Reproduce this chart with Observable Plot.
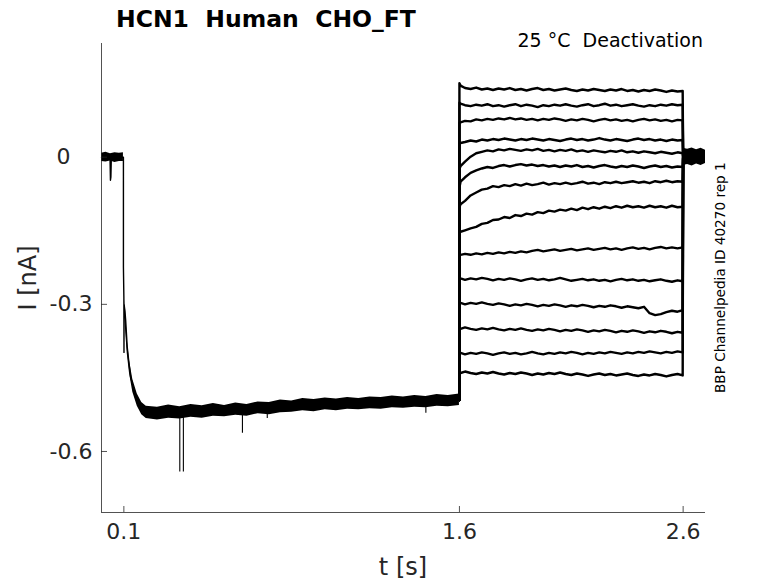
<!DOCTYPE html>
<html><head><meta charset="utf-8">
<script src="https://cdn.jsdelivr.net/npm/d3@7"></script>
<script src="https://cdn.jsdelivr.net/npm/@observablehq/plot@0.6"></script>
<style>html,body{margin:0;padding:0;background:#fff;} svg text{white-space:pre;}</style>
</head><body><div id="chart"></div>
<script>
const title = "HCN1  Human  CHO_FT";
const subtitle = "25 °C  Deactivation";
const credit = "BBP Channelpedia ID 40270 rep 1";
const xLabel = "t [s]";
const yLabel = "I [nA]";
const xTicks = [0.1, 1.6, 2.6];
const yTicks = [0, -0.3, -0.6];
const xDomain = [0, 2.7];
const yDomain = [-0.7244, 0.2318];

// shared prepulse (mean trace)
const preT = [0.000, 0.038, 0.040, 0.042, 0.044, 0.098, 0.098, 0.100, 0.1005, 0.101, 0.105, 0.108, 0.115, 0.123, 0.130, 0.145, 0.160, 0.175, 0.190, 0.205, 0.250, 0.300, 0.400, 0.500, 0.600, 0.700, 0.800, 0.900, 1.000, 1.100, 1.200, 1.300, 1.400, 1.500, 1.600];
const preI = [0.000, 0.000, -0.047, -0.040, 0.000, 0.000, -0.224, -0.285, -0.398, -0.300, -0.315, -0.332, -0.387, -0.421, -0.448, -0.475, -0.495, -0.509, -0.519, -0.526, -0.522, -0.521, -0.519, -0.517, -0.515, -0.512, -0.509, -0.506, -0.505, -0.503, -0.502, -0.500, -0.499, -0.497, -0.495];

// noise envelope of the overlapping prepulse traces
const bandT = [0.105, 0.115, 0.125, 0.140, 0.160, 0.180, 0.200, 0.250, 0.300, 0.350, 0.400, 0.450, 0.500, 0.550, 0.600, 0.650, 0.700, 0.750, 0.800, 0.850, 0.900, 0.950, 1.000, 1.050, 1.100, 1.150, 1.200, 1.250, 1.300, 1.350, 1.400, 1.450, 1.500, 1.550, 1.600];
const bandUp = [-0.290, -0.372, -0.414, -0.453, -0.483, -0.500, -0.508, -0.510, -0.505, -0.509, -0.504, -0.507, -0.502, -0.506, -0.501, -0.504, -0.499, -0.500, -0.495, -0.497, -0.492, -0.494, -0.491, -0.493, -0.490, -0.492, -0.489, -0.490, -0.487, -0.489, -0.486, -0.488, -0.484, -0.486, -0.483];
const bandLo = [-0.335, -0.400, -0.440, -0.479, -0.508, -0.525, -0.533, -0.536, -0.532, -0.534, -0.530, -0.532, -0.528, -0.529, -0.526, -0.528, -0.523, -0.525, -0.521, -0.520, -0.517, -0.519, -0.515, -0.517, -0.514, -0.515, -0.513, -0.514, -0.511, -0.512, -0.510, -0.511, -0.508, -0.509, -0.506];

// holding-level noise before the prepulse and after the tails
const holdT = [0.000, 0.020, 0.040, 0.060, 0.080, 0.098, 2.600, 2.620, 2.640, 2.660, 2.680, 2.700];
const holdUp = [0.008, 0.010, 0.007, 0.009, 0.008, 0.009, 0.018, 0.016, 0.019, 0.015, 0.018, 0.014];
const holdLo = [-0.009, -0.010, -0.008, -0.011, -0.009, -0.009, -0.017, -0.015, -0.018, -0.014, -0.017, -0.013];
const holdSeg = ["pre", "pre", "pre", "pre", "pre", "pre", "post", "post", "post", "post", "post", "post"];

// artefact spikes during the prepulse
const spikeT = [0.350, 0.366, 0.630, 0.741, 1.450];
const spikeLo = [-0.642, -0.642, -0.563, -0.533, -0.522];
const spikeHi = [-0.520, -0.520, -0.515, -0.512, -0.498];

// tail currents (14 test potentials)
const tailT = [1.600, 1.605, 1.625, 1.650, 1.675, 1.700, 1.725, 1.750, 1.775, 1.800, 1.825, 1.850, 1.875, 1.900, 1.925, 1.950, 1.975, 2.000, 2.025, 2.050, 2.075, 2.100, 2.125, 2.150, 2.175, 2.200, 2.225, 2.250, 2.275, 2.300, 2.325, 2.350, 2.375, 2.400, 2.425, 2.450, 2.475, 2.500, 2.525, 2.550, 2.575, 2.598];
const tail1 = [0.151, 0.146, 0.141, 0.139, 0.142, 0.138, 0.140, 0.137, 0.140, 0.138, 0.141, 0.137, 0.139, 0.136, 0.139, 0.141, 0.137, 0.139, 0.136, 0.138, 0.140, 0.137, 0.135, 0.138, 0.136, 0.139, 0.137, 0.135, 0.138, 0.136, 0.139, 0.135, 0.137, 0.134, 0.137, 0.135, 0.138, 0.136, 0.133, 0.136, 0.134, 0.135];
const tail2 = [0.111, 0.109, 0.106, 0.104, 0.107, 0.105, 0.108, 0.104, 0.106, 0.103, 0.106, 0.108, 0.104, 0.107, 0.105, 0.102, 0.106, 0.104, 0.107, 0.105, 0.108, 0.105, 0.103, 0.106, 0.108, 0.104, 0.106, 0.109, 0.105, 0.107, 0.104, 0.106, 0.108, 0.105, 0.103, 0.106, 0.104, 0.107, 0.105, 0.108, 0.106, 0.107];
const tail3 = [0.070, 0.071, 0.074, 0.073, 0.077, 0.075, 0.078, 0.076, 0.079, 0.077, 0.080, 0.077, 0.079, 0.076, 0.078, 0.075, 0.078, 0.076, 0.079, 0.077, 0.074, 0.077, 0.075, 0.078, 0.076, 0.073, 0.076, 0.078, 0.075, 0.077, 0.074, 0.076, 0.073, 0.076, 0.078, 0.075, 0.077, 0.074, 0.076, 0.073, 0.076, 0.075];
const tail4 = [0.027, 0.029, 0.031, 0.034, 0.032, 0.036, 0.034, 0.037, 0.035, 0.038, 0.036, 0.034, 0.037, 0.035, 0.038, 0.036, 0.034, 0.037, 0.035, 0.033, 0.036, 0.038, 0.035, 0.037, 0.034, 0.036, 0.039, 0.036, 0.034, 0.037, 0.035, 0.033, 0.036, 0.038, 0.035, 0.037, 0.034, 0.036, 0.033, 0.036, 0.034, 0.035];
const tail5 = [-0.024, -0.018, -0.009, 0.001, 0.008, 0.011, 0.014, 0.012, 0.016, 0.014, 0.017, 0.015, 0.013, 0.016, 0.014, 0.017, 0.013, 0.015, 0.012, 0.015, 0.013, 0.016, 0.012, 0.014, 0.011, 0.014, 0.012, 0.010, 0.013, 0.011, 0.014, 0.010, 0.012, 0.009, 0.012, 0.010, 0.008, 0.011, 0.009, 0.007, 0.010, 0.008];
const tail6 = [-0.062, -0.050, -0.041, -0.032, -0.027, -0.023, -0.020, -0.022, -0.018, -0.016, -0.019, -0.016, -0.014, -0.017, -0.015, -0.018, -0.016, -0.019, -0.017, -0.020, -0.017, -0.019, -0.016, -0.020, -0.018, -0.021, -0.018, -0.016, -0.019, -0.021, -0.018, -0.020, -0.017, -0.019, -0.022, -0.019, -0.017, -0.020, -0.018, -0.021, -0.019, -0.020];
const tail7 = [-0.102, -0.096, -0.089, -0.078, -0.072, -0.066, -0.064, -0.059, -0.061, -0.057, -0.059, -0.055, -0.058, -0.054, -0.057, -0.055, -0.052, -0.056, -0.053, -0.055, -0.052, -0.055, -0.053, -0.050, -0.054, -0.052, -0.055, -0.051, -0.053, -0.050, -0.053, -0.051, -0.049, -0.052, -0.050, -0.053, -0.049, -0.051, -0.048, -0.051, -0.049, -0.050];
const tail8 = [-0.156, -0.152, -0.149, -0.145, -0.142, -0.136, -0.134, -0.128, -0.127, -0.122, -0.124, -0.118, -0.120, -0.115, -0.117, -0.112, -0.114, -0.109, -0.111, -0.107, -0.109, -0.105, -0.108, -0.103, -0.106, -0.102, -0.105, -0.101, -0.104, -0.100, -0.103, -0.099, -0.102, -0.100, -0.103, -0.099, -0.102, -0.100, -0.103, -0.099, -0.102, -0.101];
const tail9 = [-0.201, -0.199, -0.197, -0.199, -0.196, -0.198, -0.195, -0.197, -0.194, -0.196, -0.193, -0.195, -0.192, -0.194, -0.191, -0.189, -0.192, -0.190, -0.188, -0.191, -0.189, -0.187, -0.190, -0.188, -0.186, -0.189, -0.187, -0.185, -0.188, -0.186, -0.189, -0.186, -0.184, -0.187, -0.185, -0.188, -0.185, -0.183, -0.186, -0.184, -0.186, -0.184];
const tail10 = [-0.246, -0.247, -0.250, -0.247, -0.249, -0.246, -0.248, -0.251, -0.248, -0.250, -0.247, -0.249, -0.252, -0.249, -0.247, -0.250, -0.248, -0.251, -0.249, -0.246, -0.249, -0.252, -0.250, -0.248, -0.251, -0.249, -0.252, -0.250, -0.253, -0.250, -0.248, -0.251, -0.249, -0.252, -0.250, -0.253, -0.251, -0.249, -0.252, -0.254, -0.251, -0.253];
const tail11 = [-0.295, -0.297, -0.300, -0.297, -0.299, -0.296, -0.299, -0.301, -0.298, -0.300, -0.303, -0.300, -0.302, -0.299, -0.301, -0.304, -0.301, -0.303, -0.300, -0.302, -0.305, -0.302, -0.304, -0.301, -0.303, -0.306, -0.303, -0.305, -0.302, -0.304, -0.307, -0.304, -0.306, -0.308, -0.305, -0.318, -0.322, -0.320, -0.316, -0.313, -0.315, -0.312];
const tail12 = [-0.348, -0.350, -0.347, -0.350, -0.352, -0.349, -0.351, -0.348, -0.351, -0.353, -0.350, -0.352, -0.349, -0.352, -0.354, -0.351, -0.353, -0.350, -0.352, -0.355, -0.352, -0.354, -0.351, -0.353, -0.356, -0.353, -0.355, -0.352, -0.354, -0.357, -0.354, -0.356, -0.353, -0.355, -0.358, -0.355, -0.357, -0.354, -0.356, -0.359, -0.356, -0.358];
const tail13 = [-0.401, -0.399, -0.402, -0.399, -0.401, -0.398, -0.400, -0.403, -0.400, -0.398, -0.401, -0.399, -0.402, -0.400, -0.397, -0.400, -0.402, -0.399, -0.401, -0.398, -0.400, -0.397, -0.399, -0.402, -0.399, -0.401, -0.398, -0.400, -0.397, -0.399, -0.401, -0.398, -0.400, -0.397, -0.399, -0.396, -0.398, -0.400, -0.397, -0.399, -0.396, -0.398];
const tail14 = [-0.438, -0.440, -0.437, -0.440, -0.442, -0.439, -0.441, -0.438, -0.441, -0.443, -0.440, -0.442, -0.439, -0.441, -0.444, -0.441, -0.443, -0.440, -0.442, -0.439, -0.442, -0.444, -0.441, -0.443, -0.446, -0.443, -0.441, -0.444, -0.442, -0.445, -0.443, -0.441, -0.444, -0.446, -0.443, -0.445, -0.442, -0.444, -0.447, -0.444, -0.442, -0.445];
const stepBackT = 2.6;
const holdLevel = 0.0;

// ---- build tables ----
const tailSeries = [tail1, tail2, tail3, tail4, tail5, tail6, tail7, tail8, tail9, tail10, tail11, tail12, tail13, tail14];
const tails = [];
tailSeries.forEach((vals, k) => {
  tails.push({trace: k, t: tailT[0], I: preI[preI.length - 1]});
  vals.forEach((v, i) => tails.push({trace: k, t: tailT[i], I: v}));
  tails.push({trace: k, t: stepBackT, I: holdLevel});
});
const pre = preT.map((t, i) => ({t, I: preI[i]}));
const band = bandT.map((t, i) => ({t, up: bandUp[i], lo: bandLo[i]}));
const hold = holdT.map((t, i) => ({t, up: holdUp[i], lo: holdLo[i], seg: holdSeg[i]}));
const spikes = spikeT.map((t, i) => ({t, lo: spikeLo[i], hi: spikeHi[i]}));

const W = 778, H = 583, mL = 101, mR = 73, mT = 43, mB = 71;
const axisColor = "#262626";

const chart = Plot.plot({
  width: W, height: H,
  marginLeft: mL, marginRight: mR, marginTop: mT, marginBottom: mB,
  x: {domain: xDomain},
  y: {domain: yDomain},
  style: {fontFamily: "DejaVu Sans", color: axisColor, background: "white", overflow: "visible"},
  marks: [
    Plot.areaY(hold, {x: "t", y1: "lo", y2: "up", z: "seg", fill: "black"}),
    Plot.areaY(band, {x: "t", y1: "lo", y2: "up", fill: "black"}),
    Plot.line(pre, {x: "t", y: "I", stroke: "black", strokeWidth: 1.4}),
    Plot.ruleX(spikes, {x: "t", y1: "lo", y2: "hi", stroke: "black", strokeWidth: 1.1}),
    Plot.line(tails, {x: "t", y: "I", z: "trace", stroke: "black", strokeWidth: 2.4}),
    Plot.ruleX([xDomain[0]], {stroke: axisColor, strokeWidth: 0.8}),
    Plot.ruleY([yDomain[0]], {stroke: axisColor, strokeWidth: 0.8}),
    Plot.tickX(xTicks, {x: d => d, insetTop: H - mT - mB - 6, stroke: axisColor, strokeWidth: 0.8}),
    Plot.tickY(yTicks, {y: d => d, insetRight: W - mL - mR - 6, stroke: axisColor, strokeWidth: 0.8}),
    Plot.axisX({ticks: xTicks, tickSize: 0, tickPadding: 11, tickFormat: d => String(d), fontSize: 22, label: null}),
    Plot.axisY({ticks: yTicks.filter(d => d !== 0), tickSize: 0, tickPadding: 9, tickFormat: d => String(d), fontSize: 22, label: null}),
    Plot.axisY({ticks: yTicks.filter(d => d === 0), tickSize: 0, tickPadding: 31, tickFormat: d => String(d), fontSize: 22, label: null})
  ]
});
document.getElementById("chart").appendChild(chart);

const svg = d3.select(chart);
const ff = "DejaVu Sans";
svg.append("text").attr("x", 116).attr("y", 26.5).attr("text-anchor", "start")
  .attr("font-family", ff).attr("font-size", 23.5).attr("font-weight", "bold").attr("fill", "black")
  .text(title);
svg.append("text").attr("x", 703).attr("y", 47).attr("text-anchor", "end")
  .attr("font-family", ff).attr("font-size", 19).attr("fill", "black")
  .text(subtitle);
svg.append("text").attr("transform", "translate(725,393) rotate(-90)").attr("text-anchor", "start")
  .attr("font-family", ff).attr("font-size", 13.6).attr("fill", "black")
  .text(credit);
svg.append("text").attr("x", (mL + W - mR) / 2).attr("y", 575).attr("text-anchor", "middle")
  .attr("font-family", ff).attr("font-size", 24).attr("fill", axisColor)
  .text(xLabel);
svg.append("text").attr("transform", "translate(36,278) rotate(-90)").attr("text-anchor", "middle")
  .attr("font-family", ff).attr("font-size", 24).attr("fill", axisColor)
  .text(yLabel);
</script>
</body></html>
